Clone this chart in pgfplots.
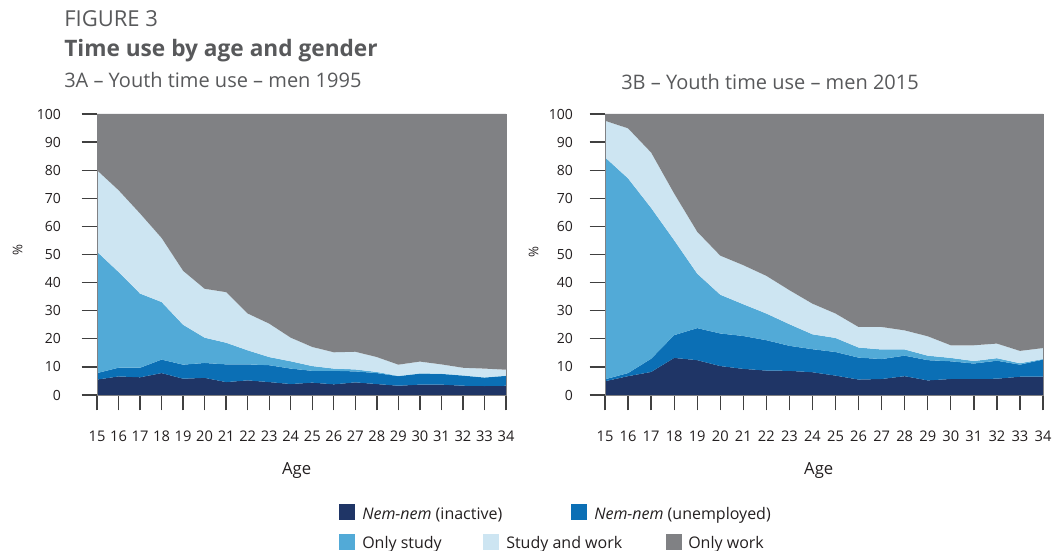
\documentclass[border=0pt]{standalone}
\usepackage{pgfplots}
\pgfplotsset{compat=1.18}
\usepackage{pgfplotstable}
\usepackage{fontspec}
\setmainfont{Open Sans}
\definecolor{cInact}{HTML}{1F3566}
\definecolor{cUnemp}{HTML}{0B6FB5}
\definecolor{cStudy}{HTML}{52AAD7}
\definecolor{cSW}{HTML}{CDE5F2}
\definecolor{cWork}{HTML}{808184}
\definecolor{cTitle}{HTML}{58595B}
\definecolor{cText}{HTML}{231F20}

\pgfplotstableread{
age inact unemp study sw work
15 5.5 2.3 43.2 29.0 20.0
16 6.6 3.1 34.1 29.1 27.1
17 6.3 3.4 26.4 28.5 35.4
18 7.8 4.8 20.5 22.8 44.1
19 5.8 5.0 14.2 19.2 55.8
20 6.1 5.3 9.0 17.4 62.2
21 4.6 6.3 7.7 18.0 63.4
22 5.2 5.7 5.0 13.1 71.0
23 4.6 6.0 2.9 11.9 74.6
24 3.9 5.5 2.6 8.4 79.6
25 4.4 4.2 1.7 6.8 82.9
26 3.8 4.8 0.8 5.8 84.8
27 4.5 3.9 0.7 6.3 84.6
28 3.9 3.9 0.4 5.3 86.5
29 3.3 3.4 0.1 4.0 89.2
30 3.7 3.9 0.1 4.2 88.1
31 3.7 3.8 0.1 3.3 89.1
32 3.3 3.6 0.1 2.7 90.3
33 3.2 3.0 0.1 3.1 90.6
34 3.3 3.5 0.1 2.1 91.0
}\dataA

\pgfplotstableread{
age inact unemp study sw work
15 4.9 0.7 79.0 13.0 2.4
16 6.7 1.1 69.3 17.8 5.1
17 8.2 4.7 53.7 19.7 13.7
18 13.2 8.1 33.8 16.6 28.3
19 12.4 11.4 19.4 14.9 41.9
20 10.3 11.6 13.8 13.9 50.4
21 9.3 11.7 11.3 13.9 53.8
22 8.7 10.8 9.5 13.4 57.6
23 8.6 8.9 7.7 12.1 62.7
24 8.1 8.2 5.3 10.9 67.5
25 6.9 8.4 5.0 8.7 71.0
26 5.5 7.8 3.6 7.3 75.8
27 5.7 7.1 3.4 8.0 75.8
28 6.7 7.3 2.2 6.8 77.0
29 5.2 7.2 1.6 6.9 79.1
30 5.7 6.3 1.2 4.5 82.3
31 5.7 5.5 0.9 5.6 82.3
32 5.8 6.4 0.9 5.2 81.7
33 6.5 4.3 0.5 4.4 84.3
34 6.5 6.1 0.2 3.9 83.3
}\dataB

\pgfplotsset{
  tu/.style={
    scale only axis,
    height=210.75pt,
    xmin=15, xmax=34, ymin=0, ymax=100,
    axis line style={cWork, line width=0.6pt},
    tick align=outside,
    xtick pos=left, ytick pos=left,
    major tick length=11.5pt,
    tick style={black!75, line width=1pt},
    xtick={15,...,34},
    ytick={0,10,...,100},
    axis on top,
    /pgf/number format/assume math mode=true,
    tick label style={font=\fontsize{10.5}{12}\selectfont, text=cText},
    xticklabel style={font=\fontsize{11}{12}\selectfont, yshift=-12pt},
    xlabel={Age},
    ylabel={\%},
    x label style={at={(axis description cs:0.488,-0.267)}, anchor=center, font=\fontsize{12.5}{14}\selectfont, text=cText},
  }
}

\begin{document}
\begin{tikzpicture}
% titles
\node[anchor=base west, inner sep=0pt, text=cTitle, font=\fontsize{16.5}{18}\selectfont] at (48pt,392.25pt) {FIGURE 3};
\node[anchor=base west, inner sep=0pt, text=cTitle, font=\bfseries\fontsize{17}{18}\selectfont] at (48pt,369.75pt) {Time use by age and gender};
\node[anchor=base west, inner sep=0pt, text=cTitle, font=\fontsize{15}{17}\selectfont] at (48pt,346.5pt) {3A -- Youth time use -- men 1995};
\node[anchor=base west, inner sep=0pt, text=cTitle, font=\fontsize{15}{17}\selectfont] at (465.75pt,345pt) {3B -- Youth time use -- men 2015};

\begin{axis}[tu, width=306.75pt, at={(72.75pt,116.25pt)}, anchor=south west,
  y label style={at={(axis description cs:-0.194,0.516)}, anchor=center, font=\fontsize{10}{12}\selectfont, text=cText},
  yticklabel style={anchor=east, xshift=-12pt}]
\addplot[fill=cInact, draw=none, stack plots=y] table[x=age, y=inact] {\dataA} \closedcycle;
\addplot[fill=cUnemp, draw=none, stack plots=y] table[x=age, y=unemp] {\dataA} \closedcycle;
\addplot[fill=cStudy, draw=none, stack plots=y] table[x=age, y=study] {\dataA} \closedcycle;
\addplot[fill=cSW, draw=none, stack plots=y] table[x=age, y=sw] {\dataA} \closedcycle;
\addplot[fill=cWork, draw=none, stack plots=y] table[x=age, y=work] {\dataA} \closedcycle;
\end{axis}

\begin{axis}[tu, width=328.5pt, at={(453.75pt,116.25pt)}, anchor=south west,
  y label style={at={(axis description cs:-0.163,0.509)}, anchor=center, font=\fontsize{10}{12}\selectfont, text=cText},
  yticklabel style={anchor=east, xshift=-9pt}]
\addplot[fill=cInact, draw=none, stack plots=y] table[x=age, y=inact] {\dataB} \closedcycle;
\addplot[fill=cUnemp, draw=none, stack plots=y] table[x=age, y=unemp] {\dataB} \closedcycle;
\addplot[fill=cStudy, draw=none, stack plots=y] table[x=age, y=study] {\dataB} \closedcycle;
\addplot[fill=cSW, draw=none, stack plots=y] table[x=age, y=sw] {\dataB} \closedcycle;
\addplot[fill=cWork, draw=none, stack plots=y] table[x=age, y=work] {\dataB} \closedcycle;
\end{axis}

% legend
\begin{scope}[font=\fontsize{12}{14}\selectfont]
\fill[cInact] (254.25pt,22.5pt) rectangle ++(12pt,12pt);
\node[anchor=base west, inner sep=0pt, text=cText] at (271.5pt,23.25pt) {\textit{Nem-nem} (inactive)};
\fill[cUnemp] (428.25pt,22.5pt) rectangle ++(12pt,12pt);
\node[anchor=base west, inner sep=0pt, text=cText] at (445.5pt,23.25pt) {\textit{Nem-nem} (unemployed)};
\fill[cStudy] (254.25pt,0pt) rectangle ++(12pt,12pt);
\node[anchor=base west, inner sep=0pt, text=cText] at (271.5pt,1.5pt) {Only study};
\fill[cSW] (362.25pt,0pt) rectangle ++(12pt,12pt);
\node[anchor=base west, inner sep=0pt, text=cText] at (379.5pt,1.5pt) {Study and work};
\fill[cWork] (499.5pt,0pt) rectangle ++(12pt,12pt);
\node[anchor=base west, inner sep=0pt, text=cText] at (516pt,1.5pt) {Only work};
\end{scope}

\pgfresetboundingbox
\useasboundingbox (0,0) rectangle (789pt,412.5pt);
\end{tikzpicture}
\end{document}
